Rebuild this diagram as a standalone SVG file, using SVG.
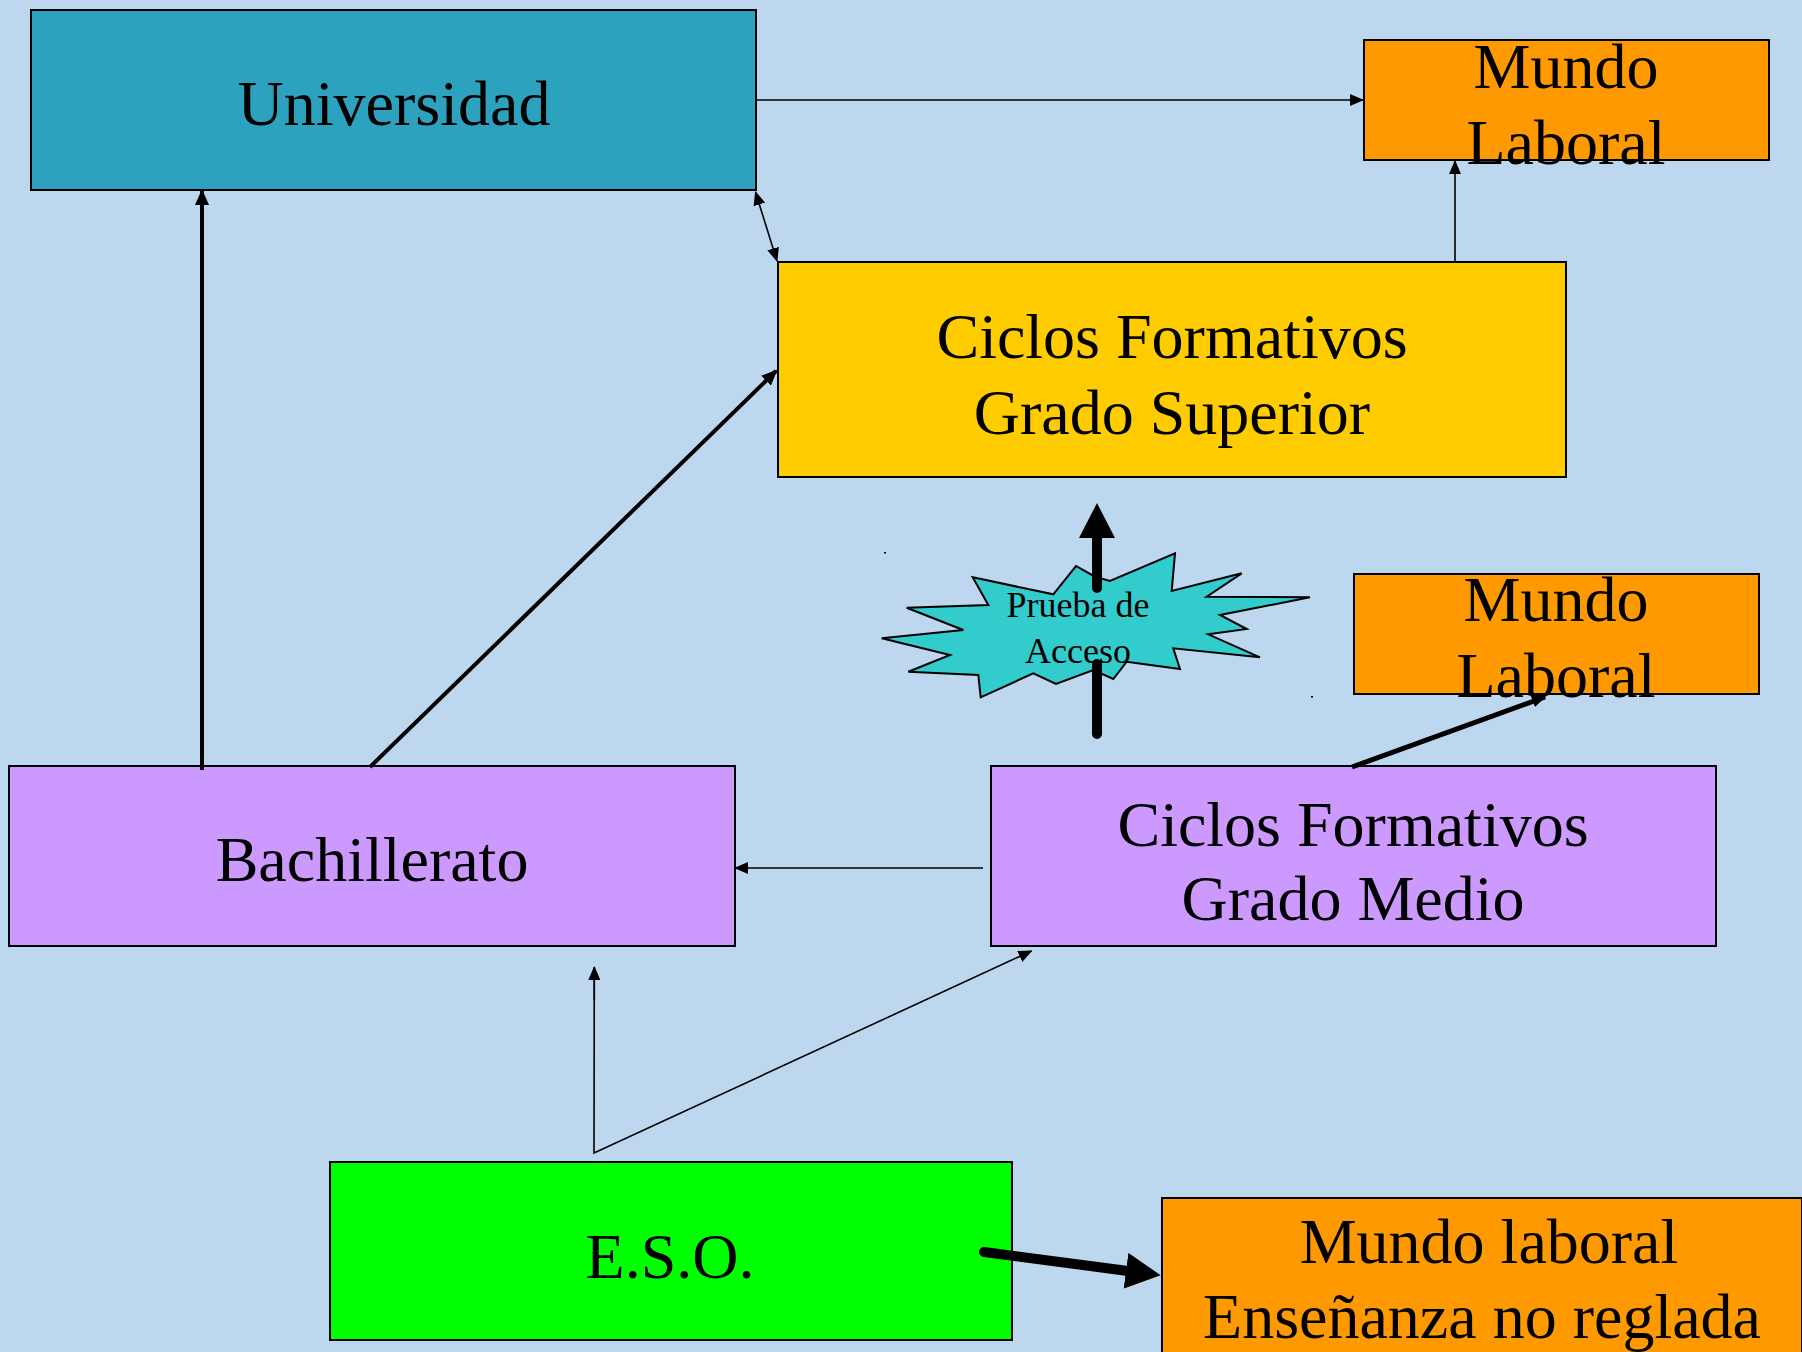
<svg xmlns="http://www.w3.org/2000/svg" width="1802" height="1352" viewBox="0 0 1802 1352">
<style>
.box{stroke:#000;stroke-width:2}
.t{font-family:"Liberation Serif","Times New Roman",serif;font-size:64px;fill:#000;text-anchor:middle}
.ts{font-family:"Liberation Serif","Times New Roman",serif;font-size:36px;fill:#000;text-anchor:middle}
.thin{stroke:#000;stroke-width:1.6;fill:none}
.med{stroke:#000;stroke-width:4;fill:none}
.thick{stroke:#000;stroke-width:10;fill:none;stroke-linecap:round}
</style>
<defs>
<marker id="ah" viewBox="0 0 14 12" refX="13" refY="6" markerWidth="14" markerHeight="12" markerUnits="userSpaceOnUse" orient="auto-start-reverse"><path d="M0,0 L14,6 L0,12 z" fill="#000"/></marker>
<marker id="ahm" viewBox="0 0 16 14" refX="14" refY="7" markerWidth="16" markerHeight="14" markerUnits="userSpaceOnUse" orient="auto"><path d="M0,0 L16,7 L0,14 z" fill="#000"/></marker>
<marker id="big" viewBox="0 0 35 36" refX="2" refY="18" markerWidth="35" markerHeight="36" markerUnits="userSpaceOnUse" orient="auto"><path d="M0,0 L35,18 L0,36 z" fill="#000"/></marker>
</defs>
<rect width="1802" height="1352" fill="#BDD7EE"/>

<g id="universidad">
<rect class="box" x="31" y="10" width="725" height="180" fill="#2CA2BF"/>
<text class="t" x="394" y="125">Universidad</text>
</g>
<g id="mundo-laboral-1">
<rect class="box" x="1364" y="40" width="405" height="120" fill="#FF9900"/>
<text class="t" x="1566" y="88">Mundo</text>
<text class="t" x="1566" y="164">Laboral</text>
</g>
<g id="cf-superior">
<rect class="box" x="778" y="262" width="788" height="215" fill="#FFCC00"/>
<text class="t" x="1172" y="358">Ciclos Formativos</text>
<text class="t" x="1172" y="434">Grado Superior</text>
</g>
<g id="prueba-acceso">
<polygon points="881.7,638.3 963.3,630 906.7,607.7 988.3,605 972.7,577.3 1053.3,594.3 1076,566 1095,576.7 1110,581 1175,553.3 1171.7,591 1241.7,573.3 1206.7,596.7 1310,597.3 1220,615 1246.7,629 1208.3,634.3 1260,657.3 1173.3,648.3 1180,669 1126.7,661.7 1113.3,679 1093.3,670 1056,684 1033.3,673.3 980.7,697.3 978.3,675 908.3,671.7 950,655" fill="#33CCCC" stroke="#000" stroke-width="2"/>
<text class="ts" x="1078" y="617">Prueba de</text>
<text class="ts" x="1078" y="663">Acceso</text>
<rect x="884" y="552" width="2" height="1.5" fill="#000"/>
<rect x="1311" y="696" width="2" height="1.5" fill="#000"/>
</g>
<g id="mundo-laboral-2">
<rect class="box" x="1354" y="574" width="405" height="120" fill="#FF9900"/>
<text class="t" x="1556" y="621">Mundo</text>
<text class="t" x="1556" y="697">Laboral</text>
</g>
<g id="bachillerato">
<rect class="box" x="9" y="766" width="726" height="180" fill="#CC99FF"/>
<text class="t" x="372" y="881">Bachillerato</text>
</g>
<g id="cf-medio">
<rect class="box" x="991" y="766" width="725" height="180" fill="#CC99FF"/>
<text class="t" x="1353" y="846">Ciclos Formativos</text>
<text class="t" x="1353" y="920">Grado Medio</text>
</g>
<g id="eso">
<rect class="box" x="330" y="1162" width="682" height="178" fill="#00FF00"/>
<text class="t" x="670" y="1278">E.S.O.</text>
</g>
<g id="mundo-laboral-3">
<rect class="box" x="1162" y="1198" width="640" height="170" fill="#FF9900"/>
<text class="t" x="1489" y="1263">Mundo laboral</text>
<text class="t" x="1482" y="1338">Enseñanza no reglada</text>
</g>

<g id="connectors">
<line class="thin" x1="757" y1="100" x2="1363" y2="100" marker-end="url(#ah)"/>
<line class="thin" x1="1455" y1="261" x2="1455" y2="161" marker-end="url(#ah)"/>
<line class="thin" x1="755.5" y1="192" x2="777" y2="261" marker-start="url(#ah)" marker-end="url(#ah)"/>
<line class="med" x1="202" y1="770" x2="202" y2="191" marker-end="url(#ahm)"/>
<line class="med" x1="370" y1="767" x2="776" y2="371" marker-end="url(#ahm)"/>
<line class="thin" x1="983" y1="868" x2="735" y2="868" marker-end="url(#ah)"/>
<polyline class="thin" points="594.3,968 594,1153 1031.5,951" marker-end="url(#ah)"/>
<line class="thin" x1="594.3" y1="1000" x2="594.3" y2="967" marker-end="url(#ah)"/>
<line x1="1352" y1="767" x2="1545" y2="697" stroke="#000" stroke-width="5" marker-end="url(#ah)"/>
<line class="thick" x1="1097" y1="588" x2="1097" y2="536" marker-end="url(#big)" style="stroke-linecap:butt"/>
<line class="thick" x1="1097" y1="588" x2="1097" y2="584"/>
<line class="thick" x1="1097" y1="664" x2="1097" y2="734"/>
<line class="thick" x1="984" y1="1252" x2="1128" y2="1271" marker-end="url(#big)"/>
</g>
</svg>
